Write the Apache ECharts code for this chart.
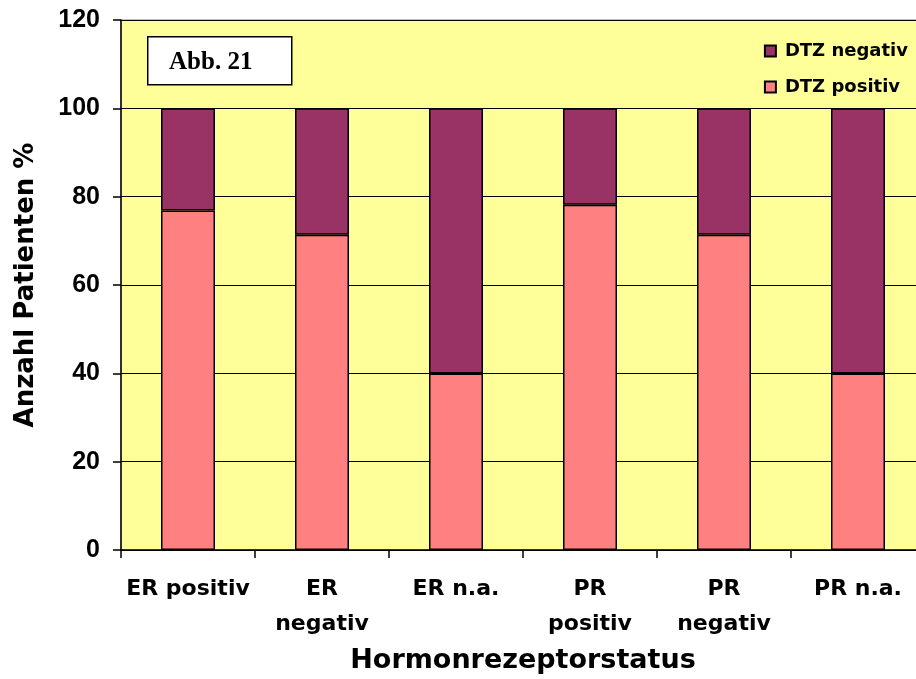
<!DOCTYPE html>
<html>
<head>
<meta charset="utf-8">
<script src="https://cdn.jsdelivr.net/npm/echarts@6/dist/echarts.min.js"></script>
<style>
  html, body { margin: 0; padding: 0; background: #ffffff; overflow: hidden; }
  #chart { width: 926px; height: 679px; }
</style>
</head>
<body>
<div id="chart"></div>
<script>
// Hormone receptor status vs. DTZ result, share of patients in percent
const categories = ['ER positiv', 'ER\nnegativ', 'ER n.a.', 'PR\npositiv', 'PR\nnegativ', 'PR n.a.'];
const dtzPositiv = [76.9, 71.4, 40, 78.2, 71.4, 40];
const dtzNegativ = [23.1, 28.6, 60, 21.8, 28.6, 60];
const yTicks = [0, 20, 40, 60, 80, 100, 120];

const chart = echarts.init(document.getElementById('chart'), null, { renderer: 'canvas' });

const sans = 'DejaVu Sans';
const arial = 'Liberation Sans';

// the plot area runs slightly past the visible right edge of the page
chart.setOption({
  animation: false,
  backgroundColor: '#ffffff',
  grid: {
    left: 121,
    right: 1,
    top: 20,
    bottom: 127,
    show: true,
    backgroundColor: '#FFFF99',
    borderColor: '#808080',
    borderWidth: 1
  },
  legend: {
    data: ['DTZ negativ', 'DTZ positiv'],
    orient: 'vertical',
    right: 13,
    top: 37,
    icon: 'rect',
    itemWidth: 11,
    itemHeight: 11,
    itemGap: 18,
    textStyle: {
      fontFamily: sans, fontWeight: 'bold', fontSize: 18, color: '#000',
      padding: [0, 0, 0, 4]
    }
  },
  xAxis: {
    type: 'category',
    data: categories,
    name: 'Hormonrezeptorstatus',
    nameLocation: 'middle',
    nameGap: 91,
    nameTextStyle: { fontFamily: sans, fontWeight: 'bold', fontSize: 27, color: '#000' },
    axisLine: { lineStyle: { color: '#000', width: 1.5 } },
    axisTick: { show: true, length: 8, lineStyle: { color: '#000', width: 1.5 } },
    axisLabel: {
      margin: 22,
      interval: 0,
      fontFamily: sans,
      fontWeight: 'bold',
      fontSize: 22,
      lineHeight: 35,
      color: '#000'
    }
  },
  yAxis: {
    type: 'value',
    min: yTicks[0],
    max: yTicks[yTicks.length - 1],
    interval: yTicks[1] - yTicks[0],
    name: 'Anzahl Patienten %',
    nameLocation: 'middle',
    nameGap: 82,
    nameTextStyle: { fontFamily: sans, fontWeight: 'bold', fontSize: 26, color: '#000' },
    axisLine: { show: true, lineStyle: { color: '#000', width: 1.5 } },
    axisTick: { show: true, length: 8, lineStyle: { color: '#000', width: 1.5 } },
    axisLabel: {
      margin: 21,
      fontFamily: arial,
      fontWeight: 'bold',
      fontSize: 25,
      color: '#000',
      showMaxLabel: true
    },
    splitLine: { show: true, lineStyle: { color: '#000', width: 1 } }
  },
  series: [
    {
      name: 'DTZ positiv',
      type: 'bar',
      stack: 'dtz',
      data: dtzPositiv,
      barWidth: 54,
      itemStyle: { color: '#FF8080', borderColor: '#000', borderWidth: 1.5 }
    },
    {
      name: 'DTZ negativ',
      type: 'bar',
      stack: 'dtz',
      data: dtzNegativ,
      barWidth: 54,
      itemStyle: { color: '#993366', borderColor: '#000', borderWidth: 1.5 }
    }
  ],
  graphic: [
    {
      type: 'group',
      left: 147,
      top: 36,
      children: [
        {
          type: 'rect',
          shape: { x: 0, y: 0, width: 144, height: 48 },
          style: { fill: '#ffffff', stroke: '#000', lineWidth: 1.5 }
        },
        {
          type: 'text',
          x: 63,
          y: 26,
          style: {
            text: 'Abb. 21',
            fontFamily: 'Liberation Serif',
            fontWeight: 'bold',
            fontSize: 25,
            fill: '#000',
            align: 'center',
            verticalAlign: 'middle'
          }
        }
      ]
    }
  ]
});
</script>
</body>
</html>
